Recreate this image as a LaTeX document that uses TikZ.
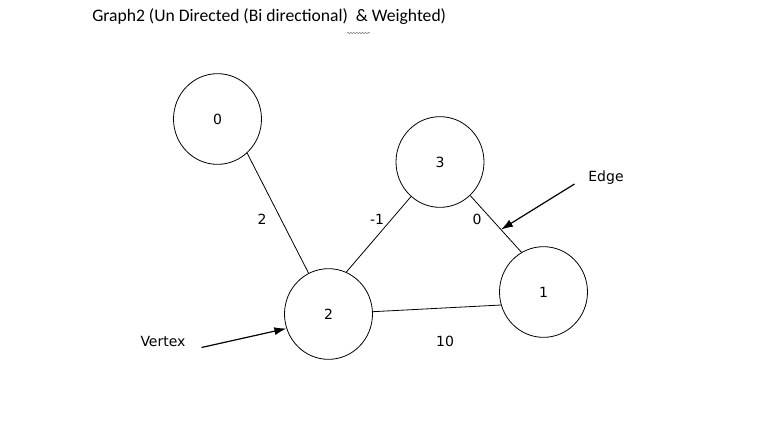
\documentclass[tikz,border=0pt]{standalone}
\usepackage{fontspec}
\setmainfont{Carlito}
\newfontfamily\labelfont{DejaVu Sans}
\usetikzlibrary{shapes.geometric,arrows.meta,decorations.pathmorphing}
\tikzset{
  vertexnode/.style={ellipse, draw, line width=0.6pt, minimum width=66pt, minimum height=68pt, inner sep=0pt, font=\labelfont\fontsize{10.5}{12}\selectfont},
  weightlabel/.style={font=\labelfont\fontsize{10.5}{12}\selectfont},
  pointer/.style={line width=0.9pt, -{Latex[length=9pt,width=6pt]}}
}
\begin{document}
\begin{tikzpicture}[x=0.75pt,y=-0.75pt]
\useasboundingbox (0,0) rectangle (760,426);
\node[anchor=west, inner sep=0pt, font=\fontsize{13.2}{15}\selectfont] (title) at (92,17) {Graph2 (Un Directed (Bi directional)\ \ \& Weighted)};
\draw[gray, line width=0.4pt, decorate, decoration={snake, amplitude=0.6pt, segment length=2.2pt}] (347,33) -- (370,33);
\node[vertexnode] (v0) at (217.5,119){0};
\node[vertexnode] (v3) at (440,162){3};
\node[vertexnode] (v2) at (328.5,314){2};
\node[vertexnode] (v1) at (543.5,292){1};
\draw[line width=0.6pt](v0.-49.6) -- (v2.116.3);
\draw[line width=0.6pt](v2.67) -- (v3.-130);
\draw[line width=0.6pt](v3.-48.2) -- coordinate[pos=0.6] (e31) (v1.119.5);
\draw[line width=0.6pt](v2.3.6) -- (v1.197.6);
\node[weightlabel] (w02) at (262,219){2};
\node[weightlabel] (w23) at (377,219){-1};
\node[weightlabel] (w31) at (477,219){0};
\node[weightlabel] (w21) at (445,341){10};
\node[weightlabel] (edgetext) at (606,178){Edge};
\node[weightlabel] (vertextext) at (163,341){Vertex};
\coordinate (edgetail) at (574.5,184);
\coordinate (vertextail) at (201.5,347.5);
\draw[pointer](edgetail) -- (e31);
\draw[pointer](vertextail) -- (v2.199);
\end{tikzpicture}
\end{document}
